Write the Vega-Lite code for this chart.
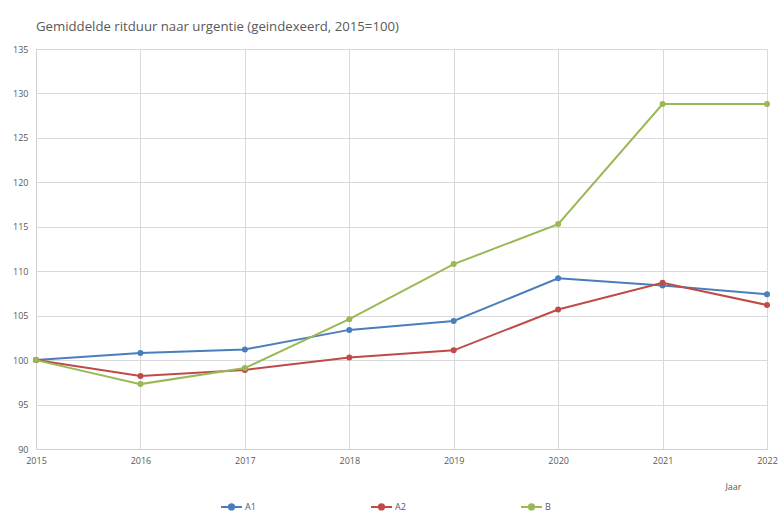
{
  "$schema": "https://vega.github.io/schema/vega-lite/v6.json",
  "autosize": {"type": "none"},
  "width": 731,
  "height": 400,
  "padding": {"left": 36, "top": 49, "right": 12, "bottom": 67},
  "background": "white",
  "title": {
    "text": "Gemiddelde ritduur naar urgentie (geindexeerd, 2015=100)",
    "anchor": "start",
    "frame": "group",
    "font": "Open Sans",
    "fontSize": 13.2,
    "fontWeight": "normal",
    "color": "#595959",
    "offset": 11
  },
  "config": {
    "view": {"stroke": null},
    "axis": {
      "labelFont": "Open Sans",
      "labelFontSize": 9,
      "labelColor": "#595959",
      "gridColor": "#d9d9d9",
      "domainColor": "#d0d0d0",
      "ticks": false,
      "titleFont": "Open Sans",
      "titleFontSize": 9,
      "titleColor": "#595959",
      "titleFontWeight": "normal"
    }
  },
  "data": {
    "values": [
      {"jaar": 2015, "urgentie": "A1", "index": 100},
      {"jaar": 2016, "urgentie": "A1", "index": 100.8},
      {"jaar": 2017, "urgentie": "A1", "index": 101.2},
      {"jaar": 2018, "urgentie": "A1", "index": 103.4},
      {"jaar": 2019, "urgentie": "A1", "index": 104.4},
      {"jaar": 2020, "urgentie": "A1", "index": 109.2},
      {"jaar": 2021, "urgentie": "A1", "index": 108.4},
      {"jaar": 2022, "urgentie": "A1", "index": 107.4},
      {"jaar": 2015, "urgentie": "A2", "index": 100},
      {"jaar": 2016, "urgentie": "A2", "index": 98.2},
      {"jaar": 2017, "urgentie": "A2", "index": 98.9},
      {"jaar": 2018, "urgentie": "A2", "index": 100.3},
      {"jaar": 2019, "urgentie": "A2", "index": 101.1},
      {"jaar": 2020, "urgentie": "A2", "index": 105.7},
      {"jaar": 2021, "urgentie": "A2", "index": 108.7},
      {"jaar": 2022, "urgentie": "A2", "index": 106.2},
      {"jaar": 2015, "urgentie": "B", "index": 100},
      {"jaar": 2016, "urgentie": "B", "index": 97.3},
      {"jaar": 2017, "urgentie": "B", "index": 99.1},
      {"jaar": 2018, "urgentie": "B", "index": 104.6},
      {"jaar": 2019, "urgentie": "B", "index": 110.8},
      {"jaar": 2020, "urgentie": "B", "index": 115.3},
      {"jaar": 2021, "urgentie": "B", "index": 128.8},
      {"jaar": 2022, "urgentie": "B", "index": 128.8}
    ]
  },
  "mark": {"type": "line", "strokeWidth": 2, "point": {"size": 36, "filled": true}},
  "encoding": {
    "x": {
      "field": "jaar",
      "type": "quantitative",
      "scale": {"domain": [2015, 2022], "nice": false, "zero": false},
      "axis": {
        "values": [2015, 2016, 2017, 2018, 2019, 2020, 2021, 2022],
        "format": "d",
        "labelPadding": 7,
        "labelFlush": false,
        "title": "Jaar",
        "titleX": 705,
        "titleY": 37,
        "titleAlign": "right",
        "titleBaseline": "middle",
        "titleAnchor": null
      }
    },
    "y": {
      "field": "index",
      "type": "quantitative",
      "scale": {"domain": [90, 135], "nice": false, "zero": false},
      "axis": {
        "values": [90, 95, 100, 105, 110, 115, 120, 125, 130, 135],
        "title": null,
        "labelPadding": 8
      }
    },
    "color": {
      "field": "urgentie",
      "type": "nominal",
      "scale": {"domain": ["A1", "A2", "B"], "range": ["#4a7ebb", "#be4b48", "#98b954"]},
      "legend": {
        "title": null,
        "orient": "none",
        "direction": "horizontal",
        "legendX": 184,
        "legendY": 446,
        "columnPadding": 111,
        "labelFont": "Open Sans",
        "labelFontSize": 9,
        "labelColor": "#595959",
        "labelOffset": 2,
        "symbolType": "M-1,0L1,0M-0.25,0A0.25,0.25,0,1,1,0.25,0A0.25,0.25,0,1,1,-0.25,0Z",
        "symbolSize": 440,
        "symbolStrokeWidth": 2,
        "encode": {
          "symbols": {"update": {"fill": {"scale": "color", "field": "value"}}}
        }
      }
    }
  }
}
